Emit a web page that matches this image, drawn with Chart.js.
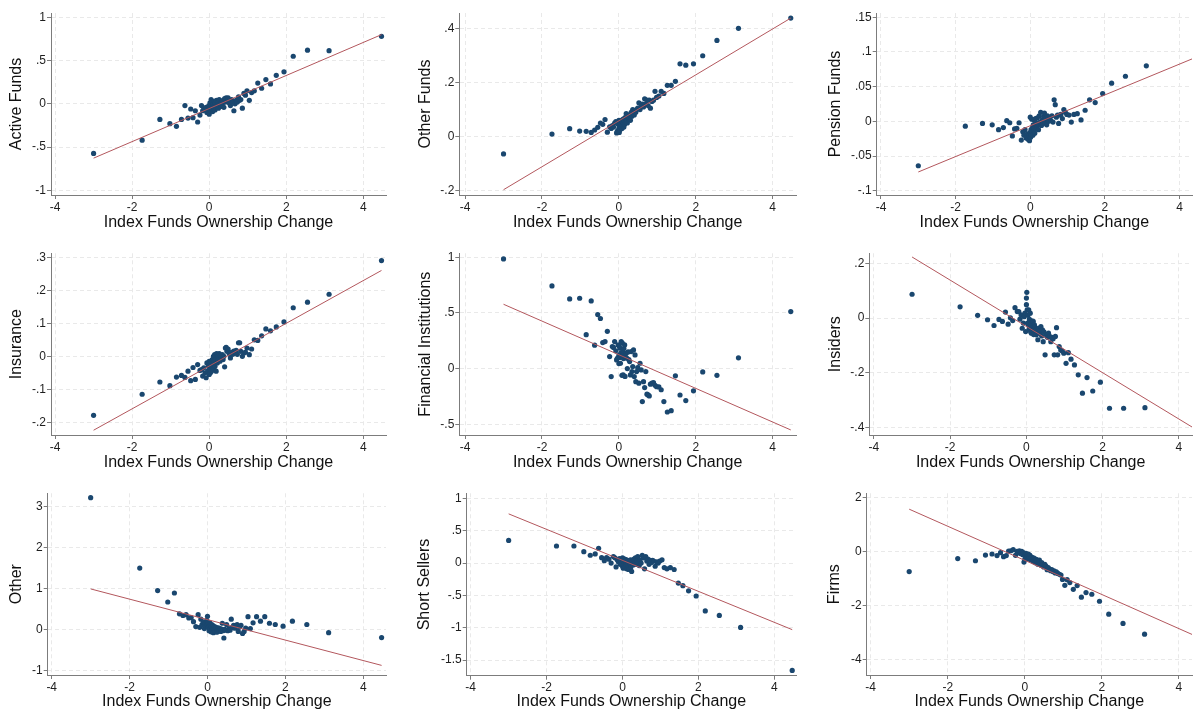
<!DOCTYPE html>
<html><head><meta charset="utf-8">
<script src="https://cdn.jsdelivr.net/npm/chart.js@4.4.1/dist/chart.umd.min.js"></script>
<style>
html,body{margin:0;padding:0;background:#fff;overflow:hidden;width:1196px;height:713px;position:relative;}
.cell{position:absolute;}
</style></head><body>
<script>
// ---------- DATA ----------
const indexChange = [-3.00,-1.74,-1.28,-1.02,-0.85,-0.72,-0.63,-0.55,-0.48,-0.42,-0.36,-0.30,-0.24,
 -0.20,-0.17,-0.14,-0.11,-0.08,-0.06,-0.04,-0.02,0.00,0.00,
 0.01,0.02,0.03,0.04,0.05,0.06,0.07,0.08,0.09,0.10,
 0.11,0.12,0.13,0.14,0.15,0.16,0.18,0.19,0.21,0.22,
 0.24,0.26,0.28,0.30,0.32,0.34,0.36,0.38,0.40,0.42,
 0.44,0.46,0.49,0.52,0.55,0.58,0.61,0.64,0.67,0.70,
 0.73,0.76,0.79,0.82,
 0.86,0.90,0.94,0.98,1.04,1.10,1.17,1.26,1.36,1.47,1.59,1.74,1.94,2.18,2.55,3.11,4.47];

const activeFunds = [-0.573,-0.42,-0.18,-0.23,-0.26,-0.18,-0.02,-0.165,-0.06,-0.16,-0.08,-0.21,-0.13,
 -0.02,-0.08,-0.05,-0.07,-0.04,-0.10,-0.06,-0.03,-0.12,-0.02,
 -0.06,0.01,-0.04,-0.08,0.05,-0.02,-0.05,0.02,-0.09,-0.03,
 0.00,-0.06,0.03,-0.01,-0.07,0.01,-0.04,0.04,-0.02,0.01,
 -0.05,0.05,0.00,-0.03,0.02,-0.01,0.04,-0.04,0.06,0.02,
 0.07,0.03,0.07,0.01,-0.02,0.05,0.02,-0.08,0.00,0.04,
 0.02,0.08,0.04,0.05,
 -0.05,0.12,0.10,0.15,0.04,0.13,0.15,0.24,0.18,0.28,0.23,0.33,0.37,0.55,0.62,0.615,0.78];

const otherFunds = [-0.065,0.009,0.029,0.02,0.019,0.015,0.024,0.034,0.05,0.045,0.063,0.016,0.036,
 0.03,0.04,0.035,0.05,0.055,0.013,0.02,0.045,0.03,0.06,
 0.015,0.04,0.025,0.05,0.035,0.06,0.045,0.03,0.055,0.04,
 0.065,0.05,0.035,0.06,0.045,0.07,0.055,0.085,0.06,0.05,
 0.07,0.065,0.08,0.06,0.09,0.075,0.1,0.085,0.08,0.095,
 0.09,0.1,0.105,0.125,0.1,0.115,0.12,0.11,0.14,0.12,
 0.135,0.115,0.135,0.105,
 0.13,0.135,0.168,0.145,0.15,0.168,0.16,0.19,0.19,0.205,0.27,0.265,0.27,0.3,0.357,0.402,0.44];

const pensionFunds = [-0.064,-0.007,-0.003,-0.005,-0.012,-0.009,0.001,-0.002,-0.021,-0.011,-0.01,-0.002,-0.027,
 -0.015,-0.02,-0.012,-0.024,-0.018,-0.026,-0.021,-0.028,-0.016,0.006,
 -0.023,-0.012,-0.019,0.003,-0.015,-0.009,-0.02,-0.005,-0.013,0.002,
 -0.01,-0.017,-0.004,0.004,-0.011,-0.002,-0.008,0.005,-0.004,-0.012,
 0.008,-0.001,0.013,-0.006,0.002,-0.003,0.007,0.012,-0.002,0.004,
 -0.005,0.008,0.0,0.005,0.001,0.008,-0.001,0.031,0.024,0.006,
 0.009,-0.003,0.009,0.01,
 0.004,0.017,0.013,0.01,0.009,-0.001,0.01,0.011,0.002,0.016,0.031,0.027,0.04,0.055,0.065,0.08,null];

const insurance = [-0.179,-0.115,-0.078,-0.089,-0.063,-0.058,-0.064,-0.045,-0.074,-0.034,-0.07,-0.025,-0.043,
 -0.04,-0.06,-0.035,-0.05,-0.065,-0.02,-0.045,-0.03,-0.055,-0.015,
 -0.04,-0.025,-0.05,-0.035,-0.02,-0.045,-0.03,-0.01,-0.04,-0.025,
 0.0,-0.035,-0.015,0.005,-0.03,-0.01,-0.045,0.008,-0.02,0.0,
 -0.01,0.008,-0.015,0.002,-0.005,0.005,-0.01,0.0,-0.032,0.025,
 0.027,0.015,0.022,0.008,-0.005,0.012,0.006,0.016,0.012,0.018,
 0.006,0.041,0.041,0.015,
 0.0,0.01,0.012,0.025,0.005,0.022,0.05,0.048,0.062,0.083,0.077,0.089,0.104,0.147,0.164,0.188,0.29];

const financialInst = [0.985,0.743,0.626,0.632,0.305,0.608,0.21,0.485,0.45,0.234,0.243,0.335,0.108,
 -0.072,0.198,0.19,0.243,0.16,0.078,0.093,0.213,0.12,0.045,
 0.2,0.1,0.183,0.048,0.14,0.243,0.11,-0.06,0.23,0.153,
 -0.057,0.09,0.18,0.13,0.213,-0.07,0.1,0.138,0.093,0.0,
 0.15,0.08,0.063,-0.057,0.153,-0.027,0.018,0.168,-0.072,0.123,
 -0.117,-0.027,0.01,-0.131,0.048,-0.012,-0.296,-0.117,-0.17,-0.027,
 -0.23,-0.236,-0.245,-0.14,
 -0.13,-0.126,-0.15,-0.162,-0.165,-0.19,-0.296,-0.39,-0.378,-0.065,-0.237,-0.287,-0.2,-0.03,-0.06,0.097,0.512];

const insiders = [0.087,0.041,0.01,-0.006,-0.027,-0.005,-0.012,0.022,-0.022,0.001,-0.009,0.038,0.024,
 0.024,-0.004,0.012,-0.037,-0.018,0.005,0.018,-0.049,0.049,0.073,
 0.094,0.03,-0.018,0.01,-0.025,0.03,-0.04,-0.005,-0.031,0.018,
 -0.05,-0.02,-0.055,-0.01,-0.035,-0.045,-0.012,-0.06,-0.025,-0.031,
 -0.05,-0.061,-0.04,-0.079,-0.037,-0.055,-0.045,-0.031,-0.065,-0.043,
 -0.086,-0.05,-0.134,-0.061,-0.07,-0.055,-0.067,-0.086,-0.07,-0.075,
 -0.134,-0.067,-0.035,-0.134,
 -0.104,-0.116,-0.12,-0.128,-0.165,-0.126,-0.15,-0.171,-0.207,-0.274,-0.217,-0.266,-0.234,-0.329,-0.329,-0.327,null];

const other = [3.22,1.5,0.95,0.67,0.89,0.38,0.34,0.36,0.28,0.29,0.19,0.07,0.36,
 0.05,0.25,0.12,0.18,0.02,0.15,0.08,0.22,0.32,0.1,
 0.18,0.05,0.13,-0.03,0.08,0.16,0.02,0.1,-0.06,0.06,
 0.12,-0.02,0.04,0.09,-0.08,0.03,0.07,-0.04,0.01,0.05,
 -0.07,0.0,0.04,-0.02,0.02,-0.05,0.01,0.15,-0.03,-0.21,
 0.0,-0.02,0.12,-0.03,0.02,-0.02,0.25,0.05,0.1,0.03,
 0.08,0.12,-0.05,0.06,
 0.1,-0.1,-0.05,0.03,0.31,0.02,0.16,0.31,0.2,0.31,0.15,0.12,0.08,0.2,0.12,-0.08,-0.2];

const shortSellers = [0.35,0.263,0.263,0.175,0.12,0.14,0.227,0.082,0.036,0.082,0.06,0.0,0.1,
 0.08,-0.06,0.05,0.02,0.07,-0.02,0.04,0.0,0.08,-0.05,
 0.03,-0.08,0.05,-0.03,0.01,0.06,-0.06,0.02,-0.02,0.05,
 -0.09,0.0,0.04,-0.04,0.02,-0.1,0.03,-0.01,0.05,-0.06,
 -0.13,0.02,-0.03,0.06,0.0,0.08,-0.02,0.04,0.1,0.01,
 -0.04,0.05,0.0,0.12,0.08,-0.09,0.1,0.03,0.06,-0.02,
 0.04,0.01,0.04,0.03,
 -0.05,0.02,0.0,0.03,0.05,-0.07,-0.09,-0.07,-0.1,-0.31,-0.35,-0.43,-0.51,-0.74,-0.81,-0.995,-1.66];

const firms = [-0.75,-0.27,-0.35,-0.14,-0.1,-0.16,-0.05,-0.2,-0.16,0.01,0.02,0.06,-0.15,
 0.0,-0.05,0.02,-0.08,0.0,-0.12,-0.05,-0.4,-0.1,-0.3,
 -0.15,-0.22,-0.08,-0.18,-0.12,-0.25,-0.15,-0.2,-0.1,-0.28,
 -0.18,-0.22,-0.14,-0.3,-0.2,-0.25,-0.33,-0.22,-0.28,-0.38,
 -0.25,-0.32,-0.42,-0.3,-0.36,-0.48,-0.4,-0.33,-0.45,-0.52,
 -0.42,-0.5,-0.58,-0.48,-0.55,-0.68,-0.6,-0.66,-0.72,-0.68,
 -0.75,-0.72,-0.8,-0.76,
 -0.82,-0.85,-0.88,-1.04,-1.26,-1.05,-1.16,-1.41,-1.27,-1.7,-1.53,-1.59,-1.85,-2.33,-2.67,-3.07,null];

// fitted lines (endpoints)
const fitX = [-3.0, 4.47];
const activeFit = [-0.628, 0.80];
const otherFundsFit = [-0.198, 0.44];
const pensionFit = [-0.073, 0.093];
const insuranceFit = [-0.224, 0.26];
const financialFit = [0.578, -0.551];
const insidersFit = [0.223, -0.408];
const otherFit = [0.99, -0.88];
const shortFit = [0.76, -1.03];
const firmsFit = [1.56, -3.16];

// tick values
const xTicks = [-4, -2, 0, 2, 4];
const activeTicks = [-1, -0.5, 0, 0.5, 1];
const otherFundsTicks = [-0.2, 0, 0.2, 0.4];
const pensionTicks = [-0.1, -0.05, 0, 0.05, 0.1, 0.15];
const insuranceTicks = [-0.2, -0.1, 0, 0.1, 0.2, 0.3];
const financialTicks = [-0.5, 0, 0.5, 1];
const insidersTicks = [-0.4, -0.2, 0, 0.2];
const otherTicks = [-1, 0, 1, 2, 3];
const shortTicks = [-1.5, -1, -0.5, 0, 0.5, 1];
const firmsTicks = [-4, -2, 0, 2];

const xTitle = 'Index Funds Ownership Change';

// ---------- LAYOUT ----------
const FONT = '"Liberation Sans", Arial, sans-serif';
const DOT = '#1a476f', LINE = '#b3575d', AXIS = '#7c7c7c', GRID = '#e9e9e9';
const colLeft = [0, 400, 800], colW = [400, 400, 396], rowTop = [0, 240, 480], CH = 240;

const panels = [
 {title:'Active Funds', y:activeFunds, fit:activeFit, yTicks:activeTicks, col:0,row:0, xr:[-4.105,4.587], yr:[-1.054,1.05], left:51, right:386, top:13, bottom:195, tpad:9, xpad:9.3},
 {title:'Other Funds', y:otherFunds, fit:otherFundsFit, yTicks:otherFundsTicks, col:1,row:0, xr:[-4.15,4.606], yr:[-0.2176,0.459], left:59.3, right:396.7, top:13, bottom:195, tpad:17.5, xpad:9.3},
 {title:'Pension Funds', y:pensionFunds, fit:pensionFit, yTicks:pensionTicks, col:2,row:0, xr:[-4.115,4.334], yr:[-0.1062,0.1562], left:76.7, right:396, top:13, bottom:195, tpad:28, xpad:9.3},
 {title:'Insurance', y:insurance, fit:insuranceFit, yTicks:insuranceTicks, col:0,row:1, xr:[-4.105,4.587], yr:[-0.2385,0.312], left:51, right:386, top:13.3, bottom:195, tpad:9, xpad:9.3},
 {title:'Financial Institutions', y:financialInst, fit:financialFit, yTicks:financialTicks, col:1,row:1, xr:[-4.15,4.606], yr:[-0.5964,1.0357], left:59.3, right:396.7, top:13.3, bottom:195, tpad:17.5, xpad:9.3},
 {title:'Insiders', y:insiders, fit:insidersFit, yTicks:insidersTicks, col:2,row:1, xr:[-4.122,4.344], yr:[-0.4266,0.2365], left:69.3, right:396, top:13.3, bottom:195, tpad:28, xpad:9.3},
 {title:'Other', y:other, fit:otherFit, yTicks:otherTicks, col:0,row:2, xr:[-4.103,4.583], yr:[-1.115,3.328], left:47.7, right:386, top:13.3, bottom:195, tpad:9, xpad:10.3},
 {title:'Short Sellers', y:shortSellers, fit:shortFit, yTicks:shortTicks, col:1,row:2, xr:[-4.105,4.57], yr:[-1.742,1.078], left:66.7, right:396.7, top:13.3, bottom:195.7, tpad:17, xpad:10.3},
 {title:'Firms', y:firms, fit:firmsFit, yTicks:firmsTicks, col:2,row:2, xr:[-4.103,4.341], yr:[-4.581,2.148], left:66.7, right:396, top:13.3, bottom:195, tpad:27, xpad:10.3},
];

function fmt(v){
  const s = String(Math.round(v * 10000) / 10000);
  return s.replace(/^(-?)0\./, '$1.');
}

panels.forEach(p => {
  const W = colW[p.col];
  const div = document.createElement('div');
  div.className = 'cell';
  div.style.left = colLeft[p.col] + 'px';
  div.style.top = rowTop[p.row] + 'px';
  div.style.width = W + 'px';
  div.style.height = CH + 'px';
  const cv = document.createElement('canvas');
  cv.width = W; cv.height = CH;
  cv.style.width = W + 'px'; cv.style.height = CH + 'px';
  div.appendChild(cv);
  document.body.appendChild(div);

  const pts = [];
  indexChange.forEach((x, i) => { if (p.y[i] !== null) pts.push({x: x, y: p.y[i]}); });
  const fitPts = fitX.map((x, i) => ({x: x, y: p.fit[i]}));

  const tickFont = {family: FONT, size: 12};
  const titleFont = {family: FONT, size: 16, lineHeight: 1};

  new Chart(cv, {
    type: 'scatter',
    data: {datasets: [
      {data: fitPts, showLine: true, borderColor: LINE, borderWidth: 1, pointRadius: 0, fill: false, tension: 0},
      {data: pts, backgroundColor: DOT, borderColor: DOT, borderWidth: 0, pointRadius: 2.6}
    ]},
    options: {
      responsive: false, animation: false, events: [],
      devicePixelRatio: 1,
      plugins: {legend: {display: false}, tooltip: {enabled: false}},
      layout: {padding: {left: 0, right: W - p.right, top: p.top, bottom: 0}},
      scales: {
        x: {
          type: 'linear', position: 'bottom', min: p.xr[0], max: p.xr[1],
          afterBuildTicks: s => { s.ticks = xTicks.map(v => ({value: v})); },
          afterFit: s => { s.height = CH - p.bottom; },
          ticks: {autoSkip: false, maxRotation: 0, padding: 1, color: '#1e1e1e', font: tickFont, callback: v => fmt(v)},
          grid: {color: GRID, lineWidth: 1, tickColor: AXIS, tickLength: 4, drawTicks: true},
          border: {display: true, color: AXIS, width: 1, dash: [4, 3]},
          title: {display: true, text: xTitle, color: '#111', font: titleFont, padding: {top: 0, bottom: p.xpad}}
        },
        y: {
          type: 'linear', position: 'left', min: p.yr[0], max: p.yr[1],
          afterBuildTicks: s => { s.ticks = p.yTicks.map(v => ({value: v})); },
          afterFit: s => { s.width = p.left; },
          ticks: {autoSkip: false, padding: 1, color: '#1e1e1e', font: tickFont, callback: v => fmt(v)},
          grid: {color: GRID, lineWidth: 1, tickColor: AXIS, tickLength: 4, drawTicks: true},
          border: {display: true, color: AXIS, width: 1, dash: [4, 3]},
          title: {display: true, text: p.title, color: '#111', font: titleFont, padding: {top: p.tpad, bottom: 0}}
        }
      }
    }
  });
});
</script>
</body></html>
